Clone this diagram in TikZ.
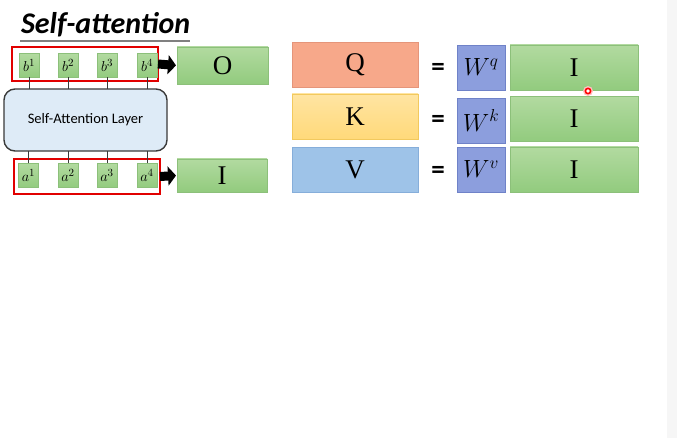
\documentclass[tikz,border=0pt]{standalone}
\usepackage{fontspec}
\newfontfamily\calibri{Carlito}
\newfontfamily\serifbox{Liberation Serif}
\usetikzlibrary{arrows.meta}
\definecolor{gfilltop}{HTML}{B2DAA0}
\definecolor{gfillbot}{HTML}{92CB7E}
\definecolor{gdraw}{HTML}{8CC07A}
\definecolor{qfill}{HTML}{F7A88A}
\definecolor{qdraw}{HTML}{E5957A}
\definecolor{kfill}{HTML}{FFD97A}
\definecolor{kdraw}{HTML}{F2C95E}
\definecolor{vfill}{HTML}{9EC3E8}
\definecolor{vdraw}{HTML}{86AEDA}
\definecolor{wfill}{HTML}{8C9EDD}
\definecolor{wdraw}{HTML}{6F82C8}
\definecolor{lfill}{HTML}{DEEBF7}
\definecolor{ldraw}{HTML}{3A3A3A}
\definecolor{redbox}{HTML}{E10000}
\definecolor{strip}{HTML}{F6F6F6}
\tikzset{
  every node/.style={inner sep=0pt, outer sep=0pt},
  gbox/.style={draw=gdraw, top color=gfilltop, bottom color=gfillbot, line width=0.8pt},
  bigtxt/.style={font=\serifbox\fontsize{27}{29}\selectfont},
  small/.style={gbox, minimum width=20pt, minimum height=24pt, font=\fontsize{15.5}{17}\selectfont},
  frame/.style={draw=redbox, line width=2.4pt},
  link/.style={draw=ldraw, line width=0.9pt},
  blockarrow/.style={line width=9pt, -{Triangle[length=8pt,width=19pt]}, shorten >=1pt},
  qbox/.style={draw=qdraw, fill=qfill, line width=0.8pt, minimum width=126pt, minimum height=45pt, bigtxt},
  kbox/.style={draw=kdraw, top color=kfill!70!white, bottom color=kfill, line width=0.8pt, minimum width=126pt, minimum height=45pt, bigtxt},
  vbox/.style={draw=vdraw, fill=vfill, line width=0.8pt, minimum width=126pt, minimum height=45pt, bigtxt},
  wbox/.style={draw=wdraw, fill=wfill, line width=0.8pt, minimum width=48pt, minimum height=45pt, font=\fontsize{25}{27}\selectfont},
  ibox/.style={gbox, minimum width=128pt, minimum height=45pt, bigtxt},
  eq/.style={font=\calibri\bfseries\fontsize{27}{29}\selectfont}
}
\begin{document}
\begin{tikzpicture}[x=1pt,y=-1pt]
\useasboundingbox (0,0) rectangle (677,438);
\fill[white] (0,0) rectangle (677,438);
\fill[strip] (667,0) rectangle (677,438);
% title
\node[anchor=base west, font=\calibri\bfseries\itshape\fontsize{30}{32}\selectfont] (title) at (21,34) {Self-attention};
\draw[gray, line width=1.4pt] (20,41) coordinate (ul1) -- (190,41) coordinate (ul2);
% layer
\node[draw=ldraw, fill=lfill, line width=1.4pt, rounded corners=11pt, minimum width=163pt, minimum height=62pt, font=\calibri\fontsize{14.5}{16}\selectfont] (layer) at (85.5,120) {Self-Attention Layer};
% top row
\node[frame, minimum width=146pt, minimum height=34pt] (topf) at (85,64) {};
\node[small] (b1) at (29,65.5) {$b^1$};
\node[small] (b2) at (68,65.5) {$b^2$};
\node[small] (b3) at (107,65.5) {$b^3$};
\node[small] (b4) at (147,65.5) {$b^4$};
\foreach \i in {1,...,4} \draw[link] (b\i.south) -- (b\i.south |- layer.north);
% bottom row
\node[frame, minimum width=146pt, minimum height=35pt] (botf) at (87,176.5) {};
\node[small] (a1) at (28.5,175.5) {$a^1$};
\node[small] (a2) at (68,175.5) {$a^2$};
\node[small] (a3) at (107,175.5) {$a^3$};
\node[small] (a4) at (147,175.5) {$a^4$};
\foreach \i in {1,...,4} \draw[link] (a\i.north) -- (a\i.north |- layer.south);
% O and I
\node[gbox, minimum width=91pt, minimum height=37pt, bigtxt] (O) at (222.5,65.5) {O};
\node[gbox, minimum width=90pt, minimum height=33pt, bigtxt] (I0) at (222,175.5) {I};
\draw[blockarrow] (topf.east) -- (O.west);
\draw[blockarrow] (botf.east) -- (I0.west);
% right side
\node[qbox] (Q) at (355,64.5) {Q};
\node[kbox] (K) at (355,116.5) {K};
\node[vbox] (V) at (355,169.5) {V};
\node[eq] (e1) at (438,69) {=};
\node[eq] (e2) at (438,121) {=};
\node[eq] (e3) at (438,172) {=};
\node[wbox] (Wq) at (481,67.5) {$W^q$};
\node[wbox] (Wk) at (481,120.5) {$W^k$};
\node[wbox] (Wv) at (481,169.5) {$W^v$};
\node[ibox] (I1) at (574,67.5) {I};
\node[ibox] (I2) at (574,119) {I};
\node[ibox] (I3) at (574,169.5) {I};
% cursor
\fill[red!25] (588,91) circle (5pt);
\draw[red, line width=1.6pt, fill=white] (588,91) circle (2.6pt);
\end{tikzpicture}
\end{document}
